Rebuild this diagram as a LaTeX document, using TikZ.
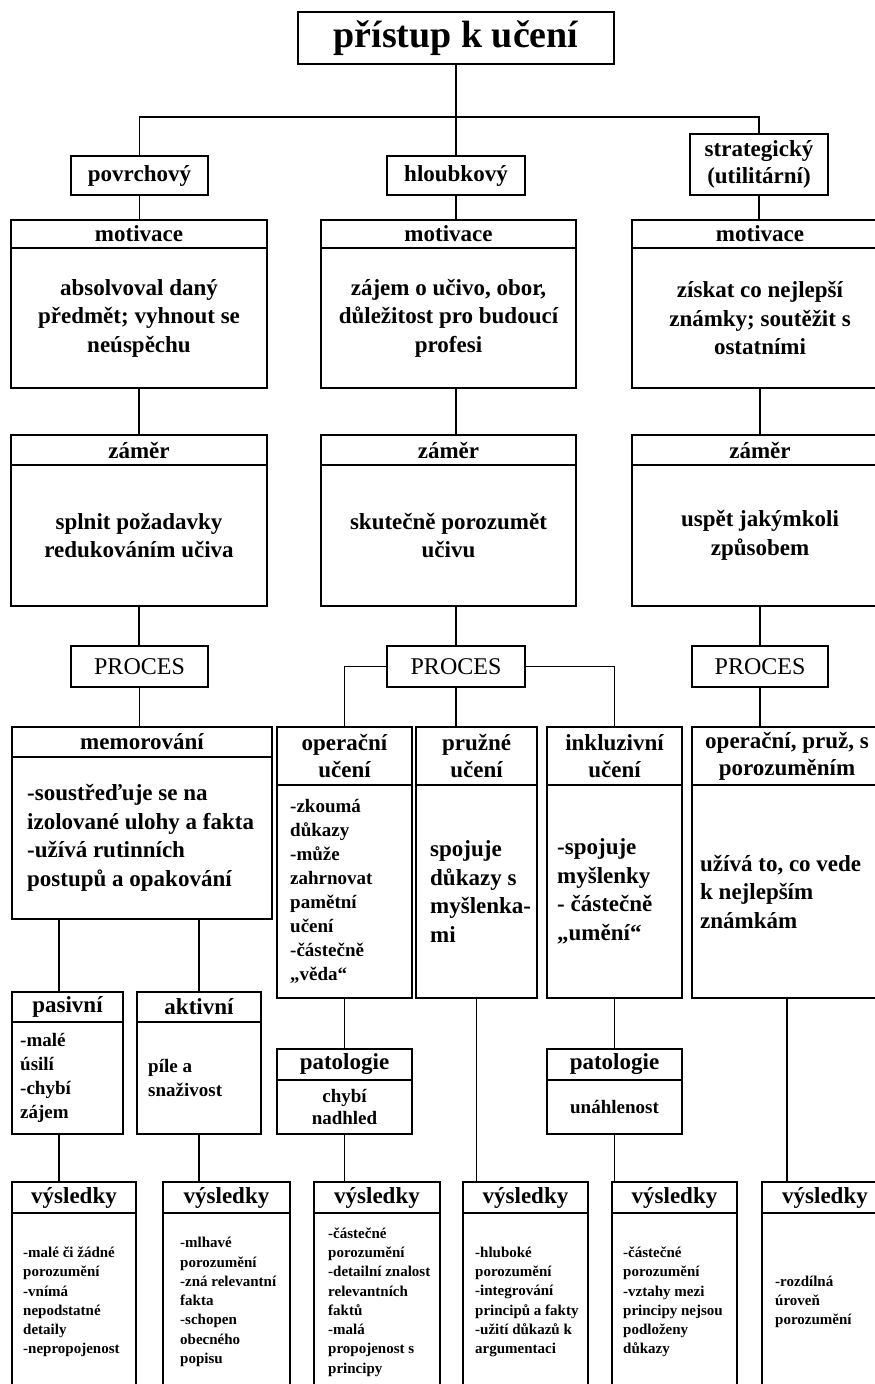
\documentclass[tikz,border=0pt]{standalone}
\usepackage{fontspec}
\setmainfont{Liberation Serif}
\usetikzlibrary{positioning,calc}

\newcommand\ftTitle{\fontsize{38}{42}\selectfont\bfseries}
\newcommand\ftMid{\fontsize{23}{28.5}\selectfont\bfseries}
\newcommand\ftPair{\fontsize{23}{27}\selectfont\bfseries}
\newcommand\ftSml{\fontsize{19}{24}\selectfont\bfseries}
\newcommand\ftPat{\fontsize{19}{22}\selectfont\bfseries}
\newcommand\ftTiny{\fontsize{15}{19.3}\selectfont\bfseries}
\newcommand\ftProc{\fontsize{24}{28}\selectfont}

\begin{document}
\begin{tikzpicture}[x=1pt,y=-1pt,
		box/.style={draw,line width=1.3pt,anchor=north west,inner sep=0pt,outer sep=0pt,align=center},
		hd/.style={box,font=\ftMid},
		txt/.style={anchor=west,inner sep=0pt,align=left},
		link/.style={line width=1.3pt}]
			% page
			\fill[white] (0,0) rectangle (875,1384);
			\clip (0,0) rectangle (875,1384);
			% top box and the three approaches
			\node[box,font=\ftTitle,minimum width=316,minimum height=52] (title) at (298,12) {přístup k učení};
			\node[hd,minimum width=137,minimum height=39] (povrch) at (71,156) {povrchový};
			\node[hd,minimum width=138,minimum height=39] (hloub) at (387,156) {hloubkový};
			\node[hd,font=\ftPair,minimum width=138,minimum height=61] (strat) at (690,134) {strategický\\(utilitární)};
			\coordinate (busY) at (0,117);
			\coordinate (bus) at (title.south |- busY);
			\draw[link] (title.south) -- (bus);
			\draw[link] (povrch.north) |- (bus) -| (strat.north);
			\draw[link] (bus) -- (hloub.north);
			% motivace and zamer headers
			\foreach \c/\x/\w in {1/11/256,2/321/255,3/632/256}{
				\node[hd,minimum width=\w,minimum height=28] (mot\c) at (\x,220) {motivace};
				\node[hd,minimum width=\w,minimum height=30] (zam\c) at (\x,435) {záměr};
			}
			\node[hd,minimum width=256,minimum height=140] (motB1) at (mot1.south west) {absolvoval daný\\předmět; vyhnout se\\neúspěchu};
			\node[hd,minimum width=255,minimum height=140] (motB2) at (mot2.south west) {zájem o učivo, obor,\\důležitost pro budoucí\\profesi};
			\node[hd,minimum width=256,minimum height=140] (motB3) at (mot3.south west) {získat co nejlepší\\známky; soutěžit s\\ostatními};
			\node[hd,minimum width=256,minimum height=141] (zamB1) at (zam1.south west) {splnit požadavky\\redukováním učiva};
			\node[hd,minimum width=255,minimum height=141] (zamB2) at (zam2.south west) {skutečně porozumět\\učivu};
			\node[hd,minimum width=256,minimum height=141] (zamB3) at (zam3.south west) {uspět jakýmkoli\\způsobem};
			\draw[link] (povrch.south) -- (povrch.south |- mot1.north);
			\draw[link] (hloub.south) -- (hloub.south |- mot2.north);
			\draw[link] (strat.south) -- (strat.south |- mot3.north);
			\draw[link] (motB1.south) -- (motB1.south |- zam1.north);
			\draw[link] (hloub.south |- motB2.south) -- (hloub.south |- zam2.north);
			\draw[link] (motB3.south) -- (motB3.south |- zam3.north);
			% PROCES
			\node[box,font=\ftProc,minimum width=137,minimum height=41] (proc1) at (71,646) {PROCES};
			\node[box,font=\ftProc,minimum width=138,minimum height=41] (proc2) at (387,646) {PROCES};
			\node[box,font=\ftProc,minimum width=136,minimum height=41] (proc3) at (692,646) {PROCES};
			\draw[link] (zamB1.south) -- (zamB1.south |- proc1.north);
			\draw[link] (hloub.south |- zamB2.south) -- (proc2.north);
			\draw[link] (zamB3.south) -- (zamB3.south |- proc3.north);
			% kinds of learning
			\node[hd,minimum width=260,minimum height=30] (memo) at (12,727) {memorování};
			\node[box,minimum width=260,minimum height=162] (memoB) at (memo.south west) {};
			\node[txt,font=\ftMid] (memoT) at ([xshift=15]memoB.west) {-soustřeďuje se na\\izolované ulohy a fakta\\-užívá rutinních\\postupů a opakování};
			\node[hd,font=\ftPair,minimum width=135,minimum height=58] (oper) at (277,727) {operační\\učení};
			\node[box,minimum width=135,minimum height=213] (operB) at (oper.south west) {};
			\node[txt,font=\ftSml] (operT) at ([xshift=13]operB.west) {-zkoumá\\důkazy\\-může\\zahrnovat\\pamětní\\učení\\-částečně\\„věda“};
			\node[hd,font=\ftPair,minimum width=121,minimum height=58] (pruz) at (416,727) {pružné\\učení};
			\node[box,minimum width=121,minimum height=213] (pruzB) at (pruz.south west) {};
			\node[txt,font=\ftMid] (pruzT) at ([xshift=14]pruzB.west) {spojuje\\důkazy s\\myšlenka-\\mi};
			\node[hd,font=\ftPair,minimum width=135,minimum height=58] (inkl) at (547,727) {inkluzivní\\učení};
			\node[box,minimum width=135,minimum height=213] (inklB) at (inkl.south west) {};
			\node[txt,font=\ftMid] (inklT) at ([xshift=10]inklB.west) {-spojuje\\myšlenky\\- částečně\\„umění“};
			\node[hd,font=\ftPair,minimum width=190,minimum height=58] (strP) at (692,727) {operační, pruž, s\\porozuměním};
			\node[box,minimum width=190,minimum height=213] (strPB) at (strP.south west) {};
			\node[txt,font=\ftMid] (strPT) at ([xshift=8]strPB.west) {užívá to, co vede\\k nejlepším\\známkám};
			\draw[link] (proc1.south) -- (proc1.south |- memo.north);
			\draw[link] (proc2.west) -| (oper.north);
			\draw[link] (proc2.south) -- (proc2.south |- pruz.north);
			\draw[link] (proc2.east) -| (inkl.north);
			\draw[link] (proc3.south) -- (proc3.south |- strP.north);
			% pasivni, aktivni, patologie
			\node[hd,minimum width=111,minimum height=30] (pasiv) at (12,992) {pasivní};
			\node[box,minimum width=111,minimum height=112] (pasivB) at (pasiv.south west) {};
			\node[txt,font=\ftSml] (pasivT) at ([xshift=8]pasivB.west) {-malé\\úsilí\\-chybí\\zájem};
			\node[hd,minimum width=124,minimum height=30] (aktiv) at (137,992) {aktivní};
			\node[box,minimum width=124,minimum height=112] (aktivB) at (aktiv.south west) {};
			\node[txt,font=\ftSml] (aktivT) at ([xshift=11]aktivB.west) {píle a\\snaživost};
			\node[hd,minimum width=135,minimum height=31] (pat1) at (277,1049) {patologie};
			\node[box,font=\ftPat,minimum width=135,minimum height=54] (patB1) at (pat1.south west) {chybí\\nadhled};
			\node[hd,minimum width=135,minimum height=31] (pat2) at (547,1049) {patologie};
			\node[box,font=\ftPat,minimum width=135,minimum height=54] (patB2) at (pat2.south west) {unáhlenost};
			\coordinate (xP) at (59,0);
			\draw[link] (memoB.south -| xP) -- (pasiv.north -| xP);
			\draw[link] (aktiv.north |- memoB.south) -- (aktiv.north);
			\draw[link] (operB.south) -- (operB.south |- pat1.north);
			\draw[link] (inklB.south) -- (inklB.south |- pat2.north);
			% vysledky
			\foreach \c/\x/\w in {1/12/124,2/163/127,3/314/126,4/463/125,5/612/125,6/762/126}{
				\node[hd,minimum width=\w,minimum height=31] (vys\c) at (\x,1182) {výsledky};
				\node[box,minimum width=\w,minimum height=178] (vysB\c) at (vys\c.south west) {};
			}
			\node[txt,font=\ftTiny] (vysT1) at ([xshift=11]vysB1.west) {-malé či žádné\\porozumění\\-vnímá\\nepodstatné\\detaily\\-nepropojenost};
			\node[txt,font=\ftTiny] (vysT2) at ([xshift=17]vysB2.west) {-mlhavé\\porozumění\\-zná relevantní\\fakta\\-schopen\\obecného\\popisu};
			\node[txt,font=\ftTiny] (vysT3) at ([xshift=14]vysB3.west) {-částečné\\porozumění\\-detailní znalost\\relevantních\\faktů\\-malá\\propojenost s\\principy};
			\node[txt,font=\ftTiny] (vysT4) at ([xshift=12]vysB4.west) {-hluboké\\porozumění\\-integrování\\principů a fakty\\-užití důkazů k\\argumentaci};
			\node[txt,font=\ftTiny] (vysT5) at ([xshift=11]vysB5.west) {-částečné\\porozumění\\-vztahy mezi\\principy nejsou\\podloženy\\důkazy};
			\node[txt,font=\ftTiny] (vysT6) at ([xshift=13]vysB6.west) {-rozdílná\\úroveň\\porozumění};
			\draw[link] (pasivB.south -| xP) -- (vys1.north -| xP);
			\draw[link] (aktivB.south) -- (aktivB.south |- vys2.north);
			\draw[link] (patB1.south) -- (patB1.south |- vys3.north);
			\draw[link] (pruzB.south) -- (pruzB.south |- vys4.north);
			\draw[link] (patB2.south) -- (patB2.south |- vys5.north);
			\draw[link] (strPB.south) -- (strPB.south |- vys6.north);
		\end{tikzpicture}
\end{document}
